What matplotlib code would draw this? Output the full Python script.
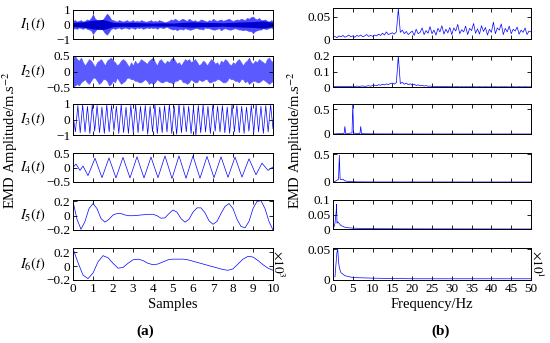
import numpy as np
import matplotlib
matplotlib.use("Agg")
import matplotlib.pyplot as plt

plt.rcParams["font.family"] = ["Liberation Serif", "DejaVu Serif"]
plt.rcParams["mathtext.fontset"] = "stix"

# ---- time domain IMFs (x in units of 10^3 samples) ----
# I1, I2: upper / lower envelope of the dense band, every 0.1
i1_upper = [0.25, 0.3, 0.2, 0.25, 0.3, 0.2, 0.25, 0.35, 0.3, 0.45,
            0.7, 0.4, 0.3, 0.25, 0.3, 0.35, 0.55, 0.75, 0.6, 0.35,
            0.3, 0.25, 0.2, 0.3, 0.25, 0.2, 0.25, 0.3, 0.2, 0.25,
            0.3, 0.2, 0.25, 0.2, 0.3, 0.25, 0.2, 0.2, 0.25, 0.3,
            0.2, 0.25, 0.2, 0.3, 0.25, 0.2, 0.15, 0.2, 0.25, 0.35,
            0.3, 0.4, 0.3, 0.25, 0.35, 0.4, 0.3, 0.25, 0.4, 0.3,
            0.25, 0.3, 0.2, 0.25, 0.35, 0.3, 0.25, 0.2, 0.3, 0.25,
            0.4, 0.3, 0.25, 0.3, 0.35, 0.25, 0.3, 0.35, 0.4, 0.3,
            0.25, 0.3, 0.35, 0.3, 0.4, 0.35, 0.3, 0.45, 0.4, 0.5,
            0.55, 0.4, 0.35, 0.45, 0.3, 0.3, 0.35, 0.25, 0.2, 0.3, 0.25]
i1_lower = [-0.3, -0.25, -0.3, -0.2, -0.25, -0.3, -0.2, -0.3, -0.35, -0.4,
            -0.65, -0.45, -0.3, -0.3, -0.25, -0.4, -0.6, -0.7, -0.5, -0.3,
            -0.25, -0.3, -0.25, -0.2, -0.3, -0.25, -0.2, -0.25, -0.3, -0.2,
            -0.25, -0.3, -0.2, -0.25, -0.2, -0.3, -0.25, -0.2, -0.25, -0.2,
            -0.25, -0.2, -0.3, -0.2, -0.2, -0.25, -0.2, -0.15, -0.25, -0.3,
            -0.35, -0.3, -0.4, -0.3, -0.3, -0.35, -0.25, -0.3, -0.35, -0.35,
            -0.3, -0.25, -0.25, -0.3, -0.3, -0.35, -0.2, -0.25, -0.25, -0.3,
            -0.35, -0.35, -0.3, -0.25, -0.4, -0.3, -0.25, -0.3, -0.35, -0.35,
            -0.3, -0.25, -0.3, -0.35, -0.35, -0.4, -0.35, -0.4, -0.45, -0.45,
            -0.6, -0.45, -0.4, -0.35, -0.35, -0.25, -0.3, -0.3, -0.25, -0.2, -0.3]
# dense core of I1 (half-width), every 0.5
i1_core = [0.15, 0.18, 0.3, 0.35, 0.15, 0.12, 0.14, 0.12, 0.1, 0.12, 0.1,
           0.15, 0.18, 0.15, 0.14, 0.12, 0.15, 0.18, 0.2, 0.25, 0.15]
i2_upper = [0.45, 0.5, 0.4, 0.35, 0.45, 0.3, 0.2, 0.3, 0.4, 0.35,
            0.25, 0.15, 0.3, 0.35, 0.4, 0.3, 0.2, 0.35, 0.4, 0.45,
            0.35, 0.3, 0.2, 0.25, 0.35, 0.4, 0.35, 0.25, 0.15, 0.3,
            0.2, 0.35, 0.25, 0.3, 0.4, 0.35, 0.3, 0.25, 0.35, 0.4,
            0.45, 0.3, 0.2, 0.35, 0.4, 0.3, 0.25, 0.35, 0.3, 0.4,
            0.45, 0.35, 0.25, 0.3, 0.2, 0.3, 0.4, 0.35, 0.4, 0.3,
            0.35, 0.4, 0.3, 0.2, 0.25, 0.35, 0.3, 0.2, 0.3, 0.4,
            0.35, 0.25, 0.3, 0.2, 0.35, 0.3, 0.4, 0.35, 0.25, 0.2,
            0.3, 0.25, 0.35, 0.4, 0.3, 0.2, 0.3, 0.35, 0.45, 0.3,
            0.25, 0.35, 0.3, 0.4, 0.35, 0.3, 0.25, 0.4, 0.45, 0.35, 0.3]
i2_lower = [-0.5, -0.45, -0.4, -0.45, -0.35, -0.3, -0.25, -0.35, -0.4, -0.3,
            -0.2, -0.2, -0.3, -0.4, -0.35, -0.25, -0.25, -0.3, -0.45, -0.4,
            -0.3, -0.35, -0.2, -0.3, -0.4, -0.35, -0.3, -0.2, -0.2, -0.25,
            -0.25, -0.3, -0.3, -0.35, -0.35, -0.3, -0.25, -0.3, -0.4, -0.35,
            -0.4, -0.35, -0.25, -0.3, -0.35, -0.35, -0.3, -0.3, -0.35, -0.35,
            -0.4, -0.3, -0.3, -0.25, -0.25, -0.35, -0.35, -0.4, -0.35, -0.25,
            -0.3, -0.35, -0.35, -0.25, -0.3, -0.3, -0.25, -0.25, -0.35, -0.35,
            -0.3, -0.3, -0.25, -0.25, -0.3, -0.35, -0.35, -0.3, -0.2, -0.25,
            -0.25, -0.3, -0.3, -0.35, -0.25, -0.25, -0.35, -0.3, -0.4, -0.35,
            -0.3, -0.3, -0.35, -0.35, -0.3, -0.25, -0.3, -0.35, -0.4, -0.35, -0.3]

# I3: successive peaks / troughs, evenly spaced over the record
i3_extrema = [0.3, -0.8, 0.9, -0.85, 0.95, -0.8, 0.85, -0.9, 0.95, -0.75,
              0.9, -0.85, 0.8, -0.9, 0.95, -0.8, 0.9, -0.7, 0.85, -0.9,
              0.95, -0.85, 0.8, -0.9, 0.9, -0.8, 0.95, -0.85, 0.85, -0.75,
              0.9, -0.95, 0.85, -0.8, 0.95, -0.9, 0.8, -0.85, 0.9, -0.8,
              0.95, -0.9, 0.85, -0.95, 1.0, -0.85, 0.9, -0.8, 0.85, -0.9,
              0.8, -1.0, 0.9, -0.85, 0.95, -0.8, 0.85, -0.9, 0.9, -0.75,
              0.85, -0.8, 0.9, -0.85, 0.8, -0.9, 0.95, -0.8, 0.9, -0.85,
              0.85, -0.9, 0.8, -0.75, 0.9, -0.85, 0.95, -0.8, 0.85, -0.9,
              0.9, -0.8, 0.95, -0.6]

# I4: peak / trough times and values
i4_t = [0.0, 0.15, 0.35, 0.5, 0.75, 1.1, 1.45, 1.8, 2.15, 2.5, 2.85, 3.2,
        3.55, 3.9, 4.25, 4.6, 4.95, 5.3, 5.65, 6.0, 6.35, 6.7, 7.05, 7.4,
        7.75, 8.1, 8.45, 8.8, 9.15, 9.45, 9.75, 10.0]
i4_v = [0.0, 0.12, -0.1, 0.05, -0.28, 0.32, -0.35, 0.33, -0.36, 0.35, -0.36,
        0.37, -0.36, 0.36, -0.35, 0.4, -0.38, 0.4, -0.37, 0.4, -0.37, 0.38,
        -0.35, 0.37, -0.34, 0.36, -0.33, 0.3, -0.25, 0.15, -0.1, 0.02]

# I5 every 0.2, I6 every 0.25
i5 = [0.20, -0.05, -0.19, -0.08, 0.10, 0.17, 0.10, -0.04, -0.09, -0.05,
      0.01, 0.03, 0.03, 0.01, 0.0, 0.0, 0.005, 0.01, 0.015, 0.02,
      0.02, 0.0, -0.035, -0.03, 0.03, 0.08, 0.05, -0.04, -0.09, -0.05,
      0.05, 0.11, 0.11, 0.04, -0.07, -0.12, -0.08, 0.03, 0.13, 0.17,
      0.10, -0.05, -0.15, -0.17, -0.08, 0.10, 0.20, 0.21, 0.10, -0.08, -0.20]
i6 = [0.25, 0.05, -0.13, -0.18, -0.10, 0.06, 0.15, 0.12, 0.04, -0.03,
      -0.02, 0.04, 0.09, 0.10, 0.08, 0.04, 0.02, 0.03, 0.06, 0.09,
      0.10, 0.10, 0.10, 0.09, 0.07, 0.05, 0.03, 0.01, -0.01, -0.03,
      -0.05, -0.06, -0.04, 0.03, 0.10, 0.14, 0.13, 0.08, 0.02, -0.03, -0.06]

# ---- spectra (Hz) ----
# rows 1, 2 every 0.5 Hz from 0 to 50
s1 = [0.004, 0.006, 0.003, 0.007, 0.005, 0.008, 0.004, 0.006, 0.009, 0.005,
      0.007, 0.004, 0.008, 0.006, 0.009, 0.005, 0.007, 0.01, 0.006, 0.008,
      0.006, 0.009, 0.007, 0.011, 0.008, 0.013, 0.009, 0.016, 0.01, 0.012,
      0.014, 0.011, 0.016, 0.068, 0.015, 0.02, 0.012, 0.017, 0.01, 0.014,
      0.018, 0.008, 0.022, 0.012, 0.015, 0.025, 0.01, 0.019, 0.013, 0.028,
      0.012, 0.02, 0.009, 0.024, 0.016, 0.03, 0.011, 0.022, 0.014, 0.026,
      0.01, 0.025, 0.018, 0.033, 0.012, 0.021, 0.016, 0.029, 0.01, 0.024,
      0.019, 0.035, 0.013, 0.023, 0.011, 0.03, 0.017, 0.026, 0.009, 0.022,
      0.015, 0.038, 0.012, 0.025, 0.02, 0.034, 0.01, 0.024, 0.016, 0.029,
      0.012, 0.022, 0.018, 0.027, 0.011, 0.02, 0.015, 0.025, 0.01, 0.018, 0.016]
s2 = [0.003, 0.004, 0.002, 0.005, 0.003, 0.004, 0.002, 0.005, 0.003, 0.004,
      0.005, 0.003, 0.006, 0.004, 0.005, 0.007, 0.004, 0.006, 0.008, 0.005,
      0.009, 0.012, 0.008, 0.015, 0.011, 0.018, 0.013, 0.02, 0.016, 0.022,
      0.025, 0.019, 0.028, 0.2, 0.022, 0.03, 0.018, 0.025, 0.015, 0.021,
      0.012, 0.018, 0.01, 0.014, 0.008, 0.011, 0.006, 0.009, 0.005, 0.006,
      0.004, 0.005, 0.003, 0.004, 0.003, 0.003, 0.002, 0.003, 0.002, 0.002,
      0.002, 0.001, 0.002, 0.002, 0.001, 0.002, 0.001, 0.002, 0.001, 0.002,
      0.001, 0.002, 0.001, 0.001, 0.002, 0.001, 0.001, 0.002, 0.001, 0.001,
      0.002, 0.001, 0.002, 0.001, 0.001, 0.002, 0.001, 0.002, 0.001, 0.001,
      0.001, 0.002, 0.001, 0.001, 0.002, 0.001, 0.001, 0.002, 0.001, 0.001, 0.001]
# rows 3-6: (frequency, amplitude) points
f3 = [0, 1, 2, 2.8, 3.0, 3.2, 4, 4.8, 5.0, 5.2, 6, 6.8, 7.0, 7.2, 8, 10, 20, 50]
s3 = [0, 0.005, 0.008, 0.01, 0.15, 0.01, 0.015, 0.02, 0.6, 0.02, 0.01, 0.008,
      0.15, 0.008, 0.005, 0.003, 0.001, 0.0]
f4 = [0, 0.5, 1.0, 1.4, 1.6, 1.8, 2.2, 2.5, 3.0, 4, 6, 10, 50]
s4 = [0, 0.01, 0.03, 0.05, 0.48, 0.05, 0.04, 0.05, 0.02, 0.008, 0.003, 0.001, 0.0]
f5 = [0.2, 0.5, 0.8, 0.9, 1.0, 1.2, 1.5, 2, 3, 4, 5, 10, 20, 50]
s5 = [0.005, 0.02, 0.06, 0.085, 0.02, 0.025, 0.02, 0.012, 0.006, 0.004, 0.003,
      0.001, 0.0005, 0.0]
f6 = [0.5, 0.8, 1.0, 1.2, 1.4, 1.6, 2.0, 3, 5, 10, 20, 30, 50]
s6 = [0.005, 0.03, 0.045, 0.05, 0.03, 0.02, 0.012, 0.007, 0.004, 0.003, 0.002,
      0.002, 0.002]

imf_names = [r"$I_1(t)$", r"$I_2(t)$", r"$I_3(t)$", r"$I_4(t)$", r"$I_5(t)$", r"$I_6(t)$"]
left_ylims = [(-1, 1), (-0.5, 0.5), (-1, 1), (-0.5, 0.5), (-0.2, 0.22), (-0.2, 0.26)]
left_yticks = [[-1, 0, 1], [-0.5, 0, 0.5], [-1, 0, 1], [-0.5, 0, 0.5], [-0.2, 0, 0.2], [-0.2, 0, 0.2]]
left_ylabels = [["\u22121", "0", "1"], ["\u22120.5", "0", "0.5"], ["\u22121", "0", "1"],
                ["\u22120.5", "0", "0.5"], ["\u22120.2", "0", "0.2"], ["\u22120.2", "0", "0.2"]]
right_ylims = [(0, 0.07), (0, 0.2), (0, 0.6), (0, 0.52), (0, 0.1), (0, 0.052)]
right_yticks = [[0, 0.05], [0, 0.1, 0.2], [0, 0.5], [0, 0.5], [0, 0.05, 0.1], [0, 0.05]]
right_ylabels = [["0", "0.05"], ["0", "0.1", "0.2"], ["0", "0.5"], ["0", "0.5"],
                 ["0", "0.05", "0.1"], ["0", "0.05"]]
sample_ticks = list(range(0, 11))
freq_ticks = list(range(0, 51, 5))

W, H = 550, 343
BLUE = "#0000ff"
left_rows = [(10, 39), (56, 87), (104, 135), (153, 182), (200, 230), (248, 280)]
right_rows = [(8, 39), (56, 87), (104, 134), (153, 182), (200, 229), (248, 280)]

fig = plt.figure(figsize=(W / 100, H / 100), dpi=100)


def add_ax(x0, w, top, bot):
    ax = fig.add_axes([x0 / W, 1 - bot / H, w / W, (bot - top) / H])
    ax.tick_params(direction="in", top=True, right=True, length=3, width=0.6,
                   labelsize=9.5, pad=2, colors="black")
    for sp in ax.spines.values():
        sp.set_linewidth(0.7)
    return ax


left_axes = []
for i, (top, bot) in enumerate(left_rows):
    ax = add_ax(73, 200, top, bot)
    ax.set_xlim(0, 10)
    ax.set_ylim(*left_ylims[i])
    ax.set_xticks(sample_ticks)
    ax.set_yticks(left_yticks[i])
    ax.set_yticklabels(left_ylabels[i])
    if i < 5:
        ax.set_xticklabels([])
    ax.text(-0.2, 0.5, imf_names[i], transform=ax.transAxes, ha="center",
            va="center", fontsize=10.5)
    left_axes.append(ax)

x_env = np.linspace(0, 10, len(i1_upper))
left_axes[0].fill_between(x_env, i1_lower, i1_upper, color="#4848ff", lw=0.4)
x_core = np.linspace(0, 10, len(i1_core))
core = np.array(i1_core)
left_axes[0].fill_between(x_core, -core, core, color="#0000cc", lw=0)
x_env2 = np.linspace(0, 10, len(i2_upper))
left_axes[1].fill_between(x_env2, i2_lower, i2_upper, color="#5a5aff", lw=0.4)
left_axes[2].plot(np.linspace(0, 10, len(i3_extrema)), i3_extrema, color=BLUE, lw=0.5)
left_axes[3].plot(i4_t, i4_v, color=BLUE, lw=0.5)
left_axes[4].plot(np.linspace(0, 10, len(i5)), i5, color=BLUE, lw=0.5)
left_axes[5].plot(np.linspace(0, 10, len(i6)), i6, color=BLUE, lw=0.5)
left_axes[5].set_xlabel("Samples", fontsize=10.5, labelpad=2)

right_axes = []
for i, (top, bot) in enumerate(right_rows):
    ax = add_ax(333, 198, top, bot)
    ax.set_xlim(0, 50)
    ax.set_ylim(*right_ylims[i])
    ax.set_xticks(freq_ticks)
    ax.set_yticks(right_yticks[i])
    ax.set_yticklabels(right_ylabels[i])
    if i < 5:
        ax.set_xticklabels([])
    right_axes.append(ax)

f_grid = np.linspace(0, 50, len(s1))
right_axes[0].plot(f_grid, s1, color=BLUE, lw=0.5)
right_axes[1].plot(np.linspace(0, 50, len(s2)), s2, color=BLUE, lw=0.5)
right_axes[2].plot(f3, s3, color=BLUE, lw=0.5)
right_axes[3].plot(f4, s4, color=BLUE, lw=0.5)
right_axes[4].plot(f5, s5, color=BLUE, lw=0.5)
right_axes[5].plot(f6, s6, color=BLUE, lw=0.5)
right_axes[5].set_xlabel("Frequency/Hz", fontsize=10.5, labelpad=2)

ylab = r"EMD Amplitude/m.s$^{-2}$"
fig.text(10 / W, 1 - 140 / H, ylab, rotation=90, ha="center", va="center", fontsize=10.5)
fig.text(295 / W, 1 - 140 / H, ylab, rotation=90, ha="center", va="center", fontsize=10.5)
fig.text(279 / W, 1 - 250 / H, r"$\times10^3$", rotation=-90, ha="center", va="top", fontsize=9.5)
fig.text(538 / W, 1 - 250 / H, r"$\times10^1$", rotation=-90, ha="center", va="top", fontsize=9.5)
fig.text(145 / W, 1 - 331 / H, "(a)", ha="center", va="center", fontsize=11, fontweight="bold")
fig.text(441 / W, 1 - 331 / H, "(b)", ha="center", va="center", fontsize=11, fontweight="bold")

fig.savefig("out.png", dpi=100)
